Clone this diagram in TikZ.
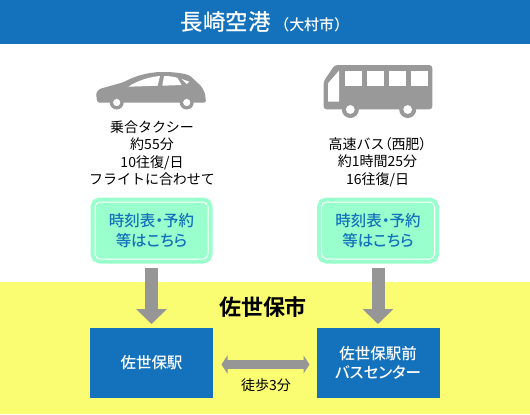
\documentclass[tikz,border=0pt]{standalone}
\usepackage{fontspec}
\setmainfont{Noto Sans CJK JP}[BoldFont={Noto Sans CJK JP Medium}]
\newfontfamily\jppalt{Noto Sans CJK JP}[RawFeature={+palt},BoldFont={Noto Sans CJK JP Medium}]
\newfontfamily\jpbold{Noto Sans CJK JP Bold}
\usetikzlibrary{arrows.meta,positioning}
\definecolor{barblue}{RGB}{20,114,188}
\definecolor{cityyellow}{RGB}{250,252,114}
\definecolor{mint}{RGB}{153,255,204}
\definecolor{vehicle}{RGB}{153,153,153}
\definecolor{route}{RGB}{150,150,150}
\def\u{0.02cm}
\newcommand{\pxfont}[1]{\fontsize{\fpeval{#1*0.569}}{\fpeval{#1*0.711}}\selectfont}
\tikzset{
  title/.style={fill=barblue,text=white,font=\bfseries,minimum width=530*\u,minimum height=44*\u,inner sep=0pt,outer sep=0pt},
  info/.style={align=center,inner sep=0pt,font=\pxfont{14}},
  timetable/.style={draw=white,line width=1*\u,fill=mint,rounded corners=5*\u,
    preaction={draw=mint,line width=9*\u},minimum width=113*\u,minimum height=57*\u,
    align=center,inner sep=0pt,outer sep=0pt,text=barblue,font=\jppalt\bfseries\pxfont{15.5}},
  station/.style={fill=barblue,text=white,minimum width=123*\u,minimum height=70*\u,align=center,
    inner sep=0pt,outer sep=0pt,font=\jppalt\bfseries\pxfont{15.5}},
  route down/.style={route,line width=13*\u,-{Triangle[width=30*\u,length=15*\u]},shorten <=9*\u,shorten >=4*\u},
  route both/.style={route,line width=9*\u,{Triangle[width=18*\u,length=6*\u]}-{Triangle[width=18*\u,length=6*\u]},shorten <=8.5*\u,shorten >=7*\u},
}
\begin{document}
\begin{tikzpicture}[x=\u,y=-\u]
  \useasboundingbox (0,0) rectangle (530,414);
  \fill[white] (0,0) rectangle (530,414);
  \fill[cityyellow] (0,282) rectangle (530,414);
  \node[title] (airport) at (265,22) {{\pxfont{22.5}長崎空港}\hspace{2pt}{\pxfont{15}（大村市）}};
  % car
  \fill[vehicle,rounded corners=1.5*\u] (97.3,102.5) -- (96,93.3) -- (99.3,89) -- (123.3,82.3)
    .. controls (133,77) and (147,72) .. (163.3,72)
    .. controls (172,72) and (183,73) .. (190,75.7)
    -- (201.7,86.7) -- (205,93.3) -- (206,102.5) -- cycle;
  \foreach \p in {(116.7,102.5),(186.7,102.5)} {
    \fill[vehicle] \p circle (7);
    \fill[white] \p circle (3.6);
  }
  \fill[white] (128.3,86.7) -- (157.7,85.7) -- (160,76) .. controls (152,76.5) and (138,80) .. cycle;
  \fill[white] (162.3,85.7) -- (181.7,85) -- (177.3,77.7) .. controls (173,76.5) and (168,76) .. (164,76) -- cycle;
  \fill[white] (181.7,79) -- (189.3,81.7) -- (186.7,84) -- cycle;
  % bus
  \fill[vehicle,rounded corners=3*\u] (323.5,109.3) -- (323.5,81.7) -- (334.7,65) -- (432.3,65) -- (432.3,109.3) -- cycle;
  \foreach \x in {344.7,366.5,388.7,410.7}
    \fill[white] (\x,71) rectangle ++(17.5,14.5);
  \fill[white] (328,83.3) -- (339,70.7) -- (339,101.7) -- (328,101.7) -- cycle;
  \foreach \p in {(350.3,109.5),(407.7,109.5)} {
    \fill[vehicle] \p circle (8.5);
    \fill[white] \p circle (4.4);
  }
  \node[info] (taxi) at (152,153) {乗合タクシー\\約55分\\10往復/日\\フライトに合わせて};
  \node[info] (bus) at (377.5,162) {高速バス{\jppalt（}西肥{\jppalt）}\\約1時間25分\\16往復/日};
  \node[timetable] (tableleft) at (151.5,230.5) {時刻表・予約\\等はこちら};
  \node[timetable] (tableright) at (378,230.5) {時刻表・予約\\等はこちら};
  \node[font=\jpbold\pxfont{22},inner sep=0pt] (city) at (263,307) {佐世保市};
  \node[station] (sasebo) at (151.5,363) {\raisebox{-0.8pt}{佐世保駅}};
  \node[station] (buscenter) at (378,363) {佐世保駅前\\バスセンター};
  \node[info] (walk) at (266,385) {徒歩3分};
  \draw[route down] (tableleft.south) -- (sasebo.north);
  \draw[route down] (tableright.south) -- (buscenter.north);
  \draw[route both] ([yshift=-1.5*\u]sasebo.east) -- ([yshift=-1.5*\u]buscenter.west);
\end{tikzpicture}
\end{document}
